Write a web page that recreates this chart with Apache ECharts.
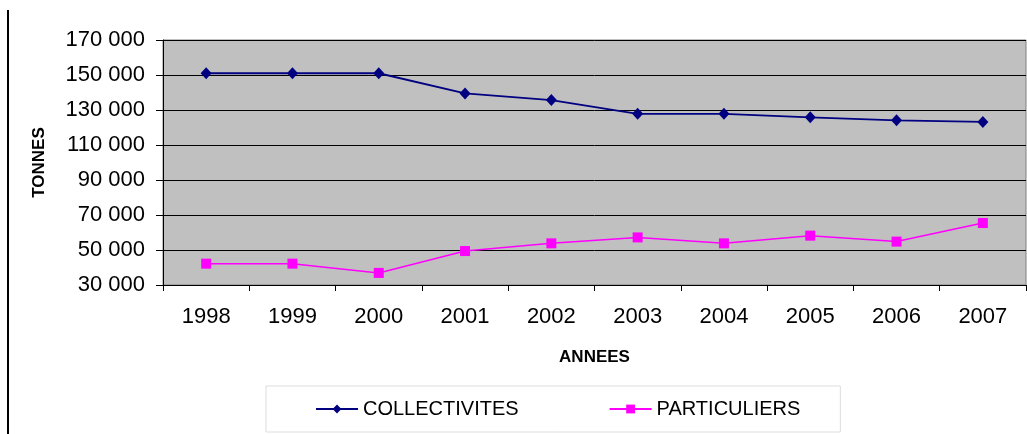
<!DOCTYPE html>
<html>
<head>
<meta charset="utf-8">
<script src="https://cdn.jsdelivr.net/npm/echarts@6/dist/echarts.min.js"></script>
<style>
  html, body { margin: 0; padding: 0; background: #fff; }
  #chart { width: 1027px; height: 434px; }
</style>
</head>
<body>
<div id="chart"></div>
<script>
// data
const years = ['1998', '1999', '2000', '2001', '2002', '2003', '2004', '2005', '2006', '2007'];
const collectivites = [151000, 151000, 151000, 139500, 135700, 127800, 127800, 125800, 124100, 123200];
const particuliers = [42200, 42200, 36900, 49400, 53800, 57200, 53800, 58200, 54800, 65400];
const yTicks = [30000, 50000, 70000, 90000, 110000, 130000, 150000, 170000];

const font = "'Liberation Sans', Arial, sans-serif";

const myChart = echarts.init(document.getElementById('chart'));

function fmt(v) {
  return String(v).replace(/\B(?=(\d{3})+(?!\d))/g, ' ');
}

const option = {
  animation: false,
  textStyle: { fontFamily: font },
  graphic: [
    {
      type: 'line',
      shape: { x1: 8, y1: 10, x2: 8, y2: 434 },
      style: { stroke: '#000', lineWidth: 2 },
    },
  ],
  grid: {
    left: 163,
    right: 1,
    top: 40,
    bottom: 149,
    show: true,
    backgroundColor: '#c0c0c0',
    borderColor: '#808080',
    borderWidth: 1,
  },
  legend: {
    left: 266,
    top: 386,
    padding: [13, 40, 13, 49],
    itemGap: 90,
    itemWidth: 42,
    itemHeight: 11,
    borderColor: '#dddddd',
    borderWidth: 1,
    textStyle: { fontFamily: font, fontSize: 20, color: '#000' },
    data: ['COLLECTIVITES', 'PARTICULIERS'],
  },
  xAxis: {
    type: 'category',
    data: years,
    boundaryGap: true,
    name: 'ANNEES',
    nameLocation: 'middle',
    nameGap: 64,
    nameTextStyle: { fontFamily: font, fontSize: 17, fontWeight: 'bold', color: '#000' },
    axisLine: { lineStyle: { color: '#000', width: 1 } },
    axisTick: { show: true, alignWithLabel: false, length: 6, lineStyle: { color: '#000' } },
    axisLabel: { fontFamily: font, fontSize: 22, color: '#000', margin: 21 },
    splitLine: { show: false },
  },
  yAxis: {
    type: 'value',
    min: 30000,
    max: 170000,
    name: 'TONNES',
    nameLocation: 'middle',
    nameGap: 115,
    nameTextStyle: { fontFamily: font, fontSize: 17, fontWeight: 'bold', color: '#000' },
    axisLine: { show: true, lineStyle: { color: '#000', width: 1 } },
    axisTick: { show: true, length: 7, customValues: yTicks, lineStyle: { color: '#000' } },
    axisLabel: {
      fontFamily: font,
      fontSize: 22,
      color: '#000',
      margin: 18,
      customValues: yTicks,
      formatter: fmt,
    },
    splitLine: { show: true, lineStyle: { color: '#000', width: 1 } },
  },
  series: [
    {
      name: 'COLLECTIVITES',
      type: 'line',
      data: collectivites,
      symbol: 'diamond',
      symbolSize: [11, 12],
      itemStyle: { color: '#000080' },
      lineStyle: { color: '#000080', width: 1.8 },
    },
    {
      name: 'PARTICULIERS',
      type: 'line',
      data: particuliers,
      symbol: 'rect',
      symbolSize: 10,
      itemStyle: { color: '#ff00ff' },
      lineStyle: { color: '#ff00ff', width: 1.5 },
    },
  ],
};

myChart.setOption(option);
</script>
</body>
</html>
